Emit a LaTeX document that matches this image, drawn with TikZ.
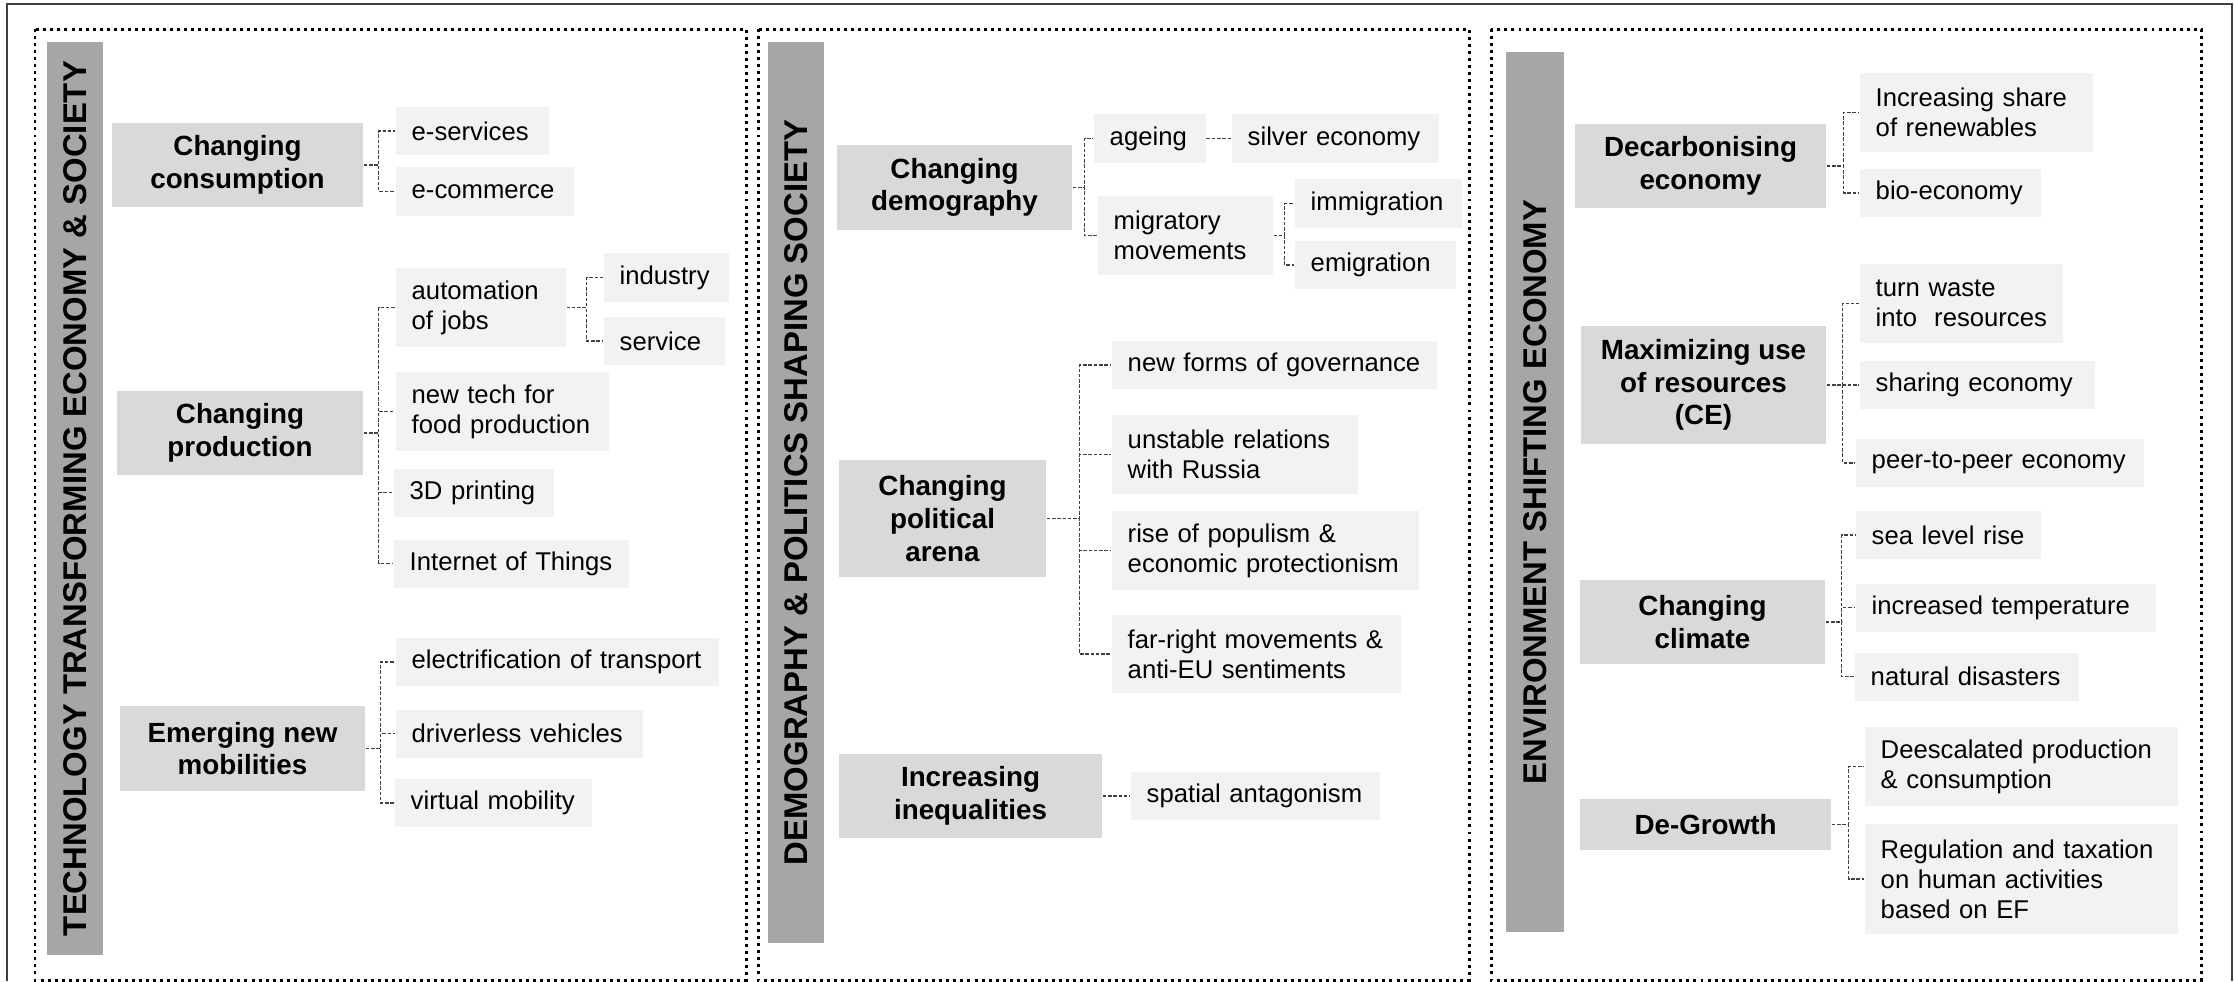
\documentclass[tikz,border=0pt]{standalone}
\usepackage{fontspec}
\setmainfont{Liberation Sans}
\definecolor{barfill}{RGB}{166,166,166}
\definecolor{catfill}{RGB}{217,217,217}
\definecolor{leaffill}{RGB}{242,242,242}
\tikzset{
  panel/.style={line width=0.85pt, dash pattern=on 0.85pt off 1.15pt},
  frame/.style={line width=0.6pt, black!75},
  bar/.style={fill=barfill, rotate=90, inner sep=0pt, font=\fontsize{9.35}{10}\selectfont\bfseries},
  cat/.style={fill=catfill, align=center, inner sep=0pt, font=\fontsize{7.9}{9.3}\selectfont\bfseries},
  leaf/.style={fill=leaffill, anchor=west, align=left, inner xsep=0.16cm, inner ysep=0pt,
    minimum height=0.48cm, font=\fontsize{7.3}{8.5}\selectfont},
  link/.style={line width=0.35pt, black!75, dash pattern=on 1pt off 0.5pt}
}
\begin{document}
\begin{tikzpicture}[x=0.01cm,y=-0.01cm]
\useasboundingbox (0,0) rectangle (2234,981);
\draw[frame] (7,981) -- (7,4) -- (2232,4) -- (2232,981);
\draw[panel] (35,29) rectangle (746,980);
\draw[panel] (758,29) rectangle (1469,980);
\draw[panel] (1491,29) rectangle (2201,980);

\node[bar, minimum width=9.13cm, minimum height=0.56cm] (techbar) at (75,498.5) {TECHNOLOGY TRANSFORMING ECONOMY \& SOCIETY};
\node[cat, minimum width=2.51cm, minimum height=0.84cm] (cons) at (237.5,165) {Changing\\consumption};
\node[leaf, text width=1.21cm] (eserv) at (395,131) {e-services};
\node[leaf, text width=1.46cm] (ecomm) at (395,191.5) {e-commerce};
\node[cat, minimum width=2.46cm, minimum height=0.84cm] (prod) at (240,433) {Changing\\production};
\node[leaf, text width=1.38cm, minimum height=0.79cm] (autom) at (395,307.5) {automation\\of jobs};
\node[leaf, text width=0.93cm] (indus) at (603,277.5) {industry};
\node[leaf, text width=0.89cm] (serv) at (603,341) {service};
\node[leaf, text width=1.81cm, minimum height=0.79cm] (food) at (395,411.5) {new tech for\\food production};
\node[leaf, text width=1.28cm] (print) at (393,492.5) {3D printing};
\node[leaf, text width=2.03cm] (iot) at (393,563.5) {Internet of Things};
\node[cat, minimum width=2.45cm, minimum height=0.85cm] (mobil) at (242.5,748.5) {Emerging new\\mobilities};
\node[leaf, text width=2.91cm] (elec) at (395,662) {electrification of transport};
\node[leaf, text width=2.15cm] (driv) at (395,733.5) {driverless vehicles};
\node[leaf, text width=1.65cm] (virt) at (394,803) {virtual mobility};
\draw[link] (cons.east) -- ++(15,0) |- (eserv.west);
\draw[link] (cons.east) -- ++(15,0) |- (ecomm.west);
\draw[link] (prod.east) -- ++(15,0) |- (autom.west);
\draw[link] (prod.east) -- ++(15,0) |- (food.west);
\draw[link] (prod.east) -- ++(15,0) |- (print.west);
\draw[link] (prod.east) -- ++(15,0) |- (iot.west);
\draw[link] (autom.east) -- ++(20,0) |- (indus.west);
\draw[link] (autom.east) -- ++(20,0) |- (serv.west);
\draw[link] (mobil.east) -- ++(15,0) |- (elec.west);
\draw[link] (mobil.east) -- ++(15,0) |- (driv.west);
\draw[link] (mobil.east) -- ++(15,0) |- (virt.west);

\node[bar, minimum width=9.01cm, minimum height=0.56cm] (demobar) at (796,492.5) {DEMOGRAPHY \& POLITICS SHAPING SOCIETY};
\node[cat, minimum width=2.35cm, minimum height=0.85cm] (demo) at (954.5,187.5) {Changing\\demography};
\node[leaf, text width=0.80cm] (age) at (1093,138.5) {ageing};
\node[leaf, text width=1.75cm] (silver) at (1231,138.5) {silver economy};
\node[leaf, text width=1.43cm, minimum height=0.79cm] (migr) at (1097,235.5) {migratory\\movements};
\node[leaf, text width=1.35cm] (immi) at (1294,203.5) {immigration};
\node[leaf, text width=1.29cm] (emig) at (1294,265) {emigration};
\node[cat, minimum width=2.07cm, minimum height=1.17cm] (polit) at (942.5,518.5) {Changing\\political\\arena};
\node[leaf, text width=2.93cm] (gov) at (1111,365) {new forms of governance};
\node[leaf, text width=2.14cm, minimum height=0.79cm] (russ) at (1111,454.5) {unstable relations\\with Russia};
\node[leaf, text width=2.75cm, minimum height=0.79cm] (popul) at (1111,550.5) {rise of populism \&\\economic protectionism};
\node[leaf, text width=2.57cm, minimum height=0.78cm] (farr) at (1111,654) {far-right movements \&\\anti-EU sentiments};
\node[cat, minimum width=2.63cm, minimum height=0.84cm] (ineq) at (970.5,796) {Increasing\\inequalities};
\node[leaf, text width=2.17cm] (spat) at (1130,796) {spatial antagonism};
\draw[link] (demo.east) -- ++(12,0) |- (age.west);
\draw[link] (demo.east) -- ++(12,0) |- (migr.west);
\draw[link] (age.east) -- (silver.west);
\draw[link] (migr.east) -- ++(11,0) |- (immi.west);
\draw[link] (migr.east) -- ++(11,0) |- (emig.west);
\draw[link] (polit.east) -- ++(33,0) |- (gov.west);
\draw[link] (polit.east) -- ++(33,0) |- (russ.west);
\draw[link] (polit.east) -- ++(33,0) |- (popul.west);
\draw[link] (polit.east) -- ++(33,0) |- (farr.west);
\draw[link] (ineq.east) -- (spat.west);

\node[bar, minimum width=8.80cm, minimum height=0.58cm] (envbar) at (1535,492) {ENVIRONMENT SHIFTING ECONOMY};
\node[cat, minimum width=2.51cm, minimum height=0.84cm] (decarb) at (1700.5,166) {Decarbonising\\economy};
\node[leaf, text width=2.01cm, minimum height=0.79cm] (renew) at (1859,112.5) {Increasing share\\of renewables};
\node[leaf, text width=1.49cm] (bio) at (1859,193) {bio-economy};
\node[cat, minimum width=2.45cm, minimum height=1.18cm] (maxim) at (1703.5,385) {Maximizing use\\of resources\\(CE)};
\node[leaf, text width=1.71cm, minimum height=0.79cm] (waste) at (1859,303.5) {turn waste\\\mbox{into\ \ resources}};
\node[leaf, text width=2.03cm] (share) at (1859,385) {sharing economy};
\node[leaf, text width=2.56cm] (peer) at (1855,463) {peer-to-peer economy};
\node[cat, minimum width=2.45cm, minimum height=0.84cm] (clim) at (1702.5,622) {Changing\\climate};
\node[leaf, text width=1.53cm] (sea) at (1855,535) {sea level rise};
\node[leaf, text width=2.68cm] (temp) at (1855,607.5) {increased temperature};
\node[leaf, text width=1.92cm] (disas) at (1854,676.5) {natural disasters};
\node[cat, minimum width=2.51cm, minimum height=0.51cm] (degr) at (1705.5,824.5) {De-Growth};
\node[leaf, text width=2.81cm, minimum height=0.79cm] (deesc) at (1864,766.5) {Deescalated production\\\& consumption};
\node[leaf, text width=2.81cm, minimum height=1.10cm] (regul) at (1864,879) {Regulation and taxation\\on human activities\\based on EF};
\draw[link] (decarb.east) -- ++(17,0) |- (renew.west);
\draw[link] (decarb.east) -- ++(17,0) |- (bio.west);
\draw[link] (maxim.east) -- ++(16,0) |- (waste.west);
\draw[link] (maxim.east) -- ++(16,0) |- (share.west);
\draw[link] (maxim.east) -- ++(16,0) |- (peer.west);
\draw[link] (clim.east) -- ++(16,0) |- (sea.west);
\draw[link] (clim.east) -- ++(16,0) |- (temp.west);
\draw[link] (clim.east) -- ++(16,0) |- (disas.west);
\draw[link] (degr.east) -- ++(17,0) |- (deesc.west);
\draw[link] (degr.east) -- ++(17,0) |- (regul.west);
\end{tikzpicture}
\end{document}
